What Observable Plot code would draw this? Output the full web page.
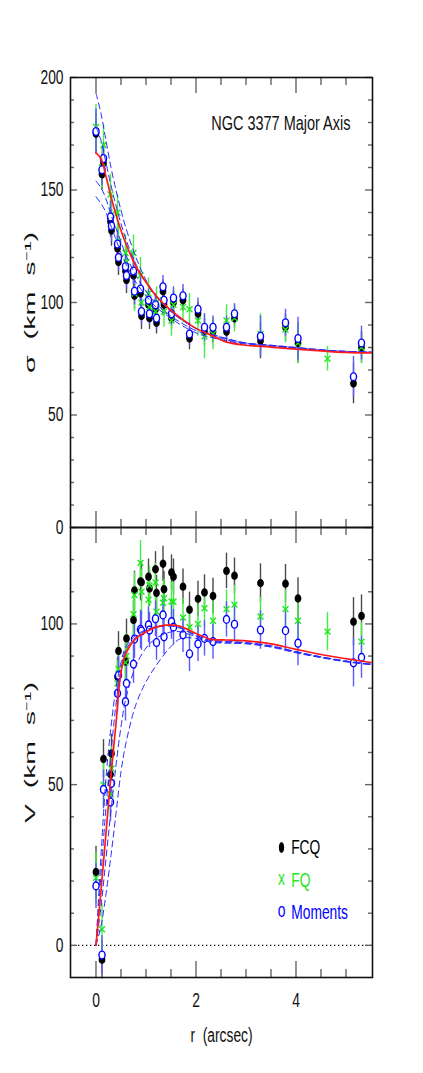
<!DOCTYPE html>
<html>
<head>
<meta charset="utf-8">
<script src="https://cdn.jsdelivr.net/npm/d3@7"></script>
<script src="https://cdn.jsdelivr.net/npm/@observablehq/plot@0.6"></script>
<style>
  html, body { margin: 0; padding: 0; background: white; }
  #wrap { position: relative; width: 423px; height: 1073px; background: white; overflow: hidden; }
  #wrap > div { position: absolute; left: 0; }
</style>
</head>
<body>
<div id="wrap"><div id="top" style="top:0px"></div><div id="bot" style="top:524px"></div></div>
<script>
// ---------------- data ----------------
const radius = [0.00, 0.12, 0.15, 0.29, 0.31, 0.43, 0.45, 0.59, 0.61, 0.75, 0.77, 0.89, 0.91, 1.05, 1.07, 1.19, 1.21,
  1.34, 1.36, 1.51, 1.55, 1.74, 1.87, 2.04, 2.17, 2.34, 2.61, 2.77, 3.29, 3.79, 4.04, 4.63, 5.15, 5.31];

const sigmaMom = [176, 159, 164, 138, 134, 126, 120, 116, 112, 114, 105, 106, 96, 101, 95, 99, 93,
  107, 101, 95, 102, 103, 86, 97, 89, 89, 89, 95, 85, 91, 84, null, 67, 82];
const sigmaMomErr = [10, 7, 7, 7, 7, 6, 6, 6, 6, 6, 6, 6, 6, 5, 5, 5, 5, 5, 5, 5, 5, 5, 5, 5, 6, 5, 5, 4.5, 9, 6, 9.5, null, 9, 7.5];
const sigmaFQ = [178, 160, 170, 148, 139, 140, 127, 122, 118, 122, 104, 112, 100, 104, 98, 96, 100,
  101, 96, 92, 99, 98, 97, 92, 85, 86, 92, 93, 86, 88, 82, 75, null, 80];
const sigmaFQErr = [10, 9, 9, 9, 9, 8, 8, 8, 8, 8, 8, 8, 8, 7, 7, 7, 7, 7, 7, 7, 7, 7, 7, 7, 10, 7, 7, 6, 9, 6, 9, 5.5, null, 7];
const sigmaFCQ = [175, 157, 162, 136, 132, 124, 118, 114, 110, 112, 103, 104, 94, 99, 93, 97, 91,
  105, 99, 93, 100, 101, 84, 95, 87, 87, 87, 93, 83, 89, 82, null, 64, 80];
const sigmaFCQErr = [9, 7, 7, 7, 7, 6, 6, 6, 6, 6, 6, 6, 6, 5, 5, 5, 5, 5, 5, 5, 5, 5, 5, 5, 6, 5, 5, 4.5, 8, 6, 9, null, 9, 7];

const velMom = [18.5, -3, 48.5, 44.6, 50.4, 78.4, 84, 75.8, 81.5, 87.5, 95.3, 98.3, 97.8, 99.7, 98.1, 101.6, 94.2,
  102.8, 96, 100.7, 99, 96.6, 90.7, 93.8, 95.5, 94.5, 101.4, 99.9, 98.1, 97.9, 94, null, 87.9, 89.6];
const velMomErr = [7, 6, 6, 6, 6, 6, 6, 6, 6, 6, 6, 6, 6, 5.5, 5.5, 5.5, 5.5, 5.5, 5.5, 5.5, 5.5, 5.5, 5.5, 5.5, 5.5, 5.5, 5.5, 5.5, 6, 6, 7, null, 7.5, 6.5];
const velFQ = [21, 5, 50, 47, 55, 81.5, 86, 88, 90, 103, 109, 119, 110, 107.5, 112, 112.9, 103.8,
  106.6, 108, 107, 106.9, 102, 99, 100, 104.9, 101, 104.6, 106, 102.3, 104.6, 101, 97.6, null, 94.5];
const velFQErr = [8, 8, 7, 7, 7, 7, 7, 7, 7, 7, 7, 7, 7, 6, 6, 6, 6, 6, 6, 6, 6, 6, 6, 6, 6, 6, 6, 6, 6, 6, 6, 6, null, 6];
const velFCQ = [22.8, -4.5, 58, 53.2, 59.7, 83.6, 91.6, 88.3, 95.5, 101.2, 110.4, 113.2, 113, 114.7, 111, 117, 109.6,
  118.7, 110.8, 116, 114.7, 111.6, 104.4, 107.8, 109.8, 108.7, 116.5, 115, 112.7, 112.5, 107.9, null, 100.7, 102.5];
const velFCQErr = [8, 6, 6, 6, 6, 6, 6, 6, 6, 6, 6, 6, 6, 5.5, 5.5, 5.5, 5.5, 5.5, 5.5, 5.5, 5.5, 5.5, 5.5, 5.5, 5.5, 5.5, 5.5, 5.5, 6, 6, 6.5, null, 7.5, 6.5];

// model curves
const modelR = [0, 0.1, 0.2, 0.3, 0.4, 0.5, 0.6, 0.8, 1.0, 1.2, 1.5, 1.7, 2.0, 2.3, 2.6, 3.0, 3.5, 4.0, 4.5, 5.0, 5.5];
const sigmaBest = [166.5, 164, 156, 147, 139, 132, 126, 116, 109, 103, 96.5, 93, 88.5, 85.5, 82.5, 81, 80.2, 79.3, 78.5, 77.8, 77.6];
const sigmaAltA = [193, 184, 172, 160, 150, 141, 133, 120, 110, 103, 96, 92.5, 88.5, 86, 84, 82, 81, 80, 79, 78.3, 78];
const sigmaAltB = [178, 172, 162, 152, 143, 135, 128, 117, 109, 102.5, 96, 92.5, 88.5, 86, 84, 82, 81, 80, 79, 78.3, 78];
const sigmaAltC = [154, 151, 146, 139, 133, 127, 121, 112, 105, 99.5, 94, 91, 87.5, 85.5, 83.5, 81.8, 80.8, 79.8, 78.8, 78.2, 77.9];
const sigmaAltD = [147, 144, 140, 134, 128, 122, 117, 109, 103, 98, 93, 90, 86.5, 84.5, 83, 81.5, 80.5, 79.6, 78.7, 78.1, 77.8];
const velBest = [0, 17, 35, 53, 69, 85, 91, 95.5, 97.5, 99, 99.7, 99.2, 97, 95.2, 95, 94.7, 93.8, 92.1, 90.5, 89.2, 88];
const velAltA = [0, 22, 43, 60, 75, 86, 92, 96, 98, 99.2, 99.5, 98.8, 96.5, 95, 94.6, 94.2, 93.2, 91.4, 89.8, 88.5, 87.5];
const velAltB = [0, 12, 27, 42, 56, 68, 77, 87, 92.5, 95.5, 97.5, 97.5, 96, 94.5, 94.2, 94, 92.9, 91.2, 89.6, 88.3, 87.4];
const velAltC = [0, 6, 16, 28, 41, 54, 63, 75, 82, 87, 93, 95.5, 95.5, 94.3, 94, 93.8, 92.8, 91, 89.5, 88.2, 87.3];
const velAltD = [0, 28, 52, 68, 80, 88, 93, 96.5, 98.2, 99, 99.3, 98.6, 96.3, 94.8, 94.5, 94.1, 93.1, 91.3, 89.7, 88.4, 87.5];

// ticks and labels
const sigmaTicks = [0, 50, 100, 150, 200];
const sigmaMinor = [10, 20, 30, 40, 60, 70, 80, 90, 110, 120, 130, 140, 160, 170, 180, 190];
const velTicks = [0, 50, 100];
const velMinor = [10, 20, 30, 40, 60, 70, 80, 90, 110, 120];
const rTicks = [0, 2, 4];
const rMinor = [0.5, 1, 1.5, 2.5, 3, 3.5, 4.5, 5];
const titleText = "NGC 3377 Major Axis";
const sigmaLabel = "σ\u00a0\u00a0(km\u00a0\u00a0s⁻¹)";
const velLabel = "V\u00a0\u00a0(km\u00a0\u00a0s⁻¹)";
const rLabel = "r\u00a0\u00a0(arcsec)";
const legendLabels = ["FCQ", "FQ", "Moments"];

// ---------------- styling ----------------
const cBlack = "#000", cGreen = "#22e822", cBlue = "#0000ff";
const barBlack = "#4a4a4a", barGreen = "#44ee44", barBlue = "#5a5aff";
const font = "'Liberation Sans', Arimo, Arial, sans-serif";
const W = 423, ML = 70, MR = 51, FH = 450;
const FW = W - ML - MR;
const xDomain = [-0.51, 5.53];

function ellipse(aspect) {
  return {
    draw(ctx, size) {
      const r = Math.sqrt(size / Math.PI), a = r * aspect, b = r, k = 0.5523;
      ctx.moveTo(a, 0);
      ctx.bezierCurveTo(a, b * k, a * k, b, 0, b);
      ctx.bezierCurveTo(-a * k, b, -a, b * k, -a, 0);
      ctx.bezierCurveTo(-a, -b * k, -a * k, -b, 0, -b);
      ctx.bezierCurveTo(a * k, -b, a, -b * k, a, 0);
      ctx.closePath();
    }
  };
}
const rows = (vals, errs) => radius.map((r, i) => ({r, v: vals[i], e: errs[i]})).filter(d => d.v != null);
const curve = (vals) => modelR.map((r, i) => ({r, v: vals[i]}));

function frameTicks(major, minor) {
  const tk = {stroke: "#666", strokeWidth: 1.4};
  return [
    Plot.tickY(minor, {y: d => d, insetRight: FW - 4, ...tk}),
    Plot.tickY(major, {y: d => d, insetRight: FW - 7, ...tk}),
    Plot.tickY(minor, {y: d => d, insetLeft: FW - 4, ...tk}),
    Plot.tickY(major, {y: d => d, insetLeft: FW - 7, ...tk}),
    Plot.tickX(rMinor, {x: d => d, insetBottom: FH - 8, ...tk}),
    Plot.tickX(rTicks, {x: d => d, insetBottom: FH - 16, ...tk}),
    Plot.tickX(rMinor, {x: d => d, insetTop: FH - 8, ...tk}),
    Plot.tickX(rTicks, {x: d => d, insetTop: FH - 16, ...tk}),
    Plot.frame({stroke: "#111", strokeWidth: 1.6}),
    Plot.text(major, {y: d => d, text: d => String(d), frameAnchor: "left", textAnchor: "end", lineAnchor: "middle", dx: -7, fontSize: 20, fill: "#111"})
  ];
}

function dataMarks(fcq, fcqE, fq, fqE, mom, momE) {
  const F = rows(fcq, fcqE), Q = rows(fq, fqE), M = rows(mom, momE);
  const bar = (data, stroke) => Plot.ruleX(data, {x: "r", y1: d => d.v - d.e, y2: d => d.v + d.e, stroke, strokeWidth: 1.4});
  return [
    bar(F, barBlack), bar(Q, barGreen), bar(M, barBlue),
    Plot.dot(F, {x: "r", y: "v", r: 4.2, symbol: ellipse(0.8), fill: cBlack}),
    Plot.dot(Q, {x: "r", y: "v", r: 2.8, symbol: "times", stroke: cGreen, strokeWidth: 1.4}),
    Plot.dot(M, {x: "r", y: "v", r: 3.9, symbol: ellipse(0.78), fill: "white", stroke: cBlue, strokeWidth: 1.4})
  ];
}

function modelMarks(best, alts) {
  return [
    ...alts.map(a => Plot.line(curve(a), {x: "r", y: "v", stroke: "#2a2aff", strokeWidth: 1, strokeDasharray: "6,4", curve: "catmull-rom"})),
    Plot.line(curve(best), {x: "r", y: "v", stroke: "#ff1a1a", strokeWidth: 1.7, curve: "catmull-rom"})
  ];
}

const common = {
  width: W, marginLeft: ML, marginRight: MR,
  x: {domain: xDomain, axis: null},
  style: {background: "transparent", overflow: "visible", fontFamily: font}
};

const topPlot = Plot.plot({
  ...common,
  height: 530, marginTop: 77, marginBottom: 3,
  y: {domain: [0, 200], axis: null},
  marks: [
    ...dataMarks(sigmaFCQ, sigmaFCQErr, sigmaFQ, sigmaFQErr, sigmaMom, sigmaMomErr),
    ...modelMarks(sigmaBest, [sigmaAltA, sigmaAltB, sigmaAltC, sigmaAltD]),
    ...frameTicks(sigmaTicks, sigmaMinor),
    Plot.text([titleText], {frameAnchor: "top-right", textAnchor: "end", lineAnchor: "middle", dx: -22, dy: 46, fontSize: 21, fill: "#111"}),
    Plot.text([sigmaLabel], {frameAnchor: "left", rotate: -90, dx: -40, lineAnchor: "middle", textAnchor: "middle", fontSize: 14, fill: "#111"})
  ]
});

const legendY = [847, 880, 911.7];
const legendMarks = [
  Plot.dot([0], {frameAnchor: "bottom-right", dx: -91, dy: legendY[0] - 977, r: 5.5, symbol: ellipse(0.48), fill: cBlack}),
  Plot.text(["x"], {frameAnchor: "bottom-right", dx: -91, dy: legendY[1] - 977 - 2, textAnchor: "middle", lineAnchor: "middle", fontSize: 20, fill: cGreen}),
  Plot.text(["o"], {frameAnchor: "bottom-right", dx: -91, dy: legendY[2] - 977 - 2, textAnchor: "middle", lineAnchor: "middle", fontSize: 20, fill: cBlue}),
  ...legendLabels.map((t, i) => Plot.text([t], {frameAnchor: "bottom-right", dx: -81.3, dy: legendY[i] - 977, textAnchor: "start", lineAnchor: "middle", fontSize: 20, fill: [cBlack, cGreen, cBlue][i]}))
];

const botPlot = Plot.plot({
  ...common,
  height: 549, marginTop: 3, marginBottom: 96,
  y: {domain: [-10, 130], axis: null},
  marks: [
    Plot.ruleY([0], {stroke: "#000", strokeWidth: 1.3, strokeDasharray: "1.3,2.7"}),
    ...dataMarks(velFCQ, velFCQErr, velFQ, velFQErr, velMom, velMomErr),
    ...modelMarks(velBest, [velAltA, velAltB, velAltC, velAltD]),
    ...frameTicks(velTicks, velMinor),
    Plot.text(rTicks, {x: d => d, text: d => String(d), frameAnchor: "bottom", lineAnchor: "middle", dy: 23, fontSize: 20, fill: "#111"}),
    Plot.text([rLabel], {frameAnchor: "bottom", lineAnchor: "middle", dy: 58, fontSize: 20, fill: "#111"}),
    Plot.text([velLabel], {frameAnchor: "left", rotate: -90, dx: -40, lineAnchor: "middle", textAnchor: "middle", fontSize: 14, fill: "#111"}),
    ...legendMarks
  ]
});

document.getElementById("top").appendChild(topPlot);
document.getElementById("bot").appendChild(botPlot);

// condense the lettering like the original plotting font
document.querySelectorAll("#wrap svg text").forEach(t => {
  const s = t.textContent;
  if (!s) return;
  const L = t.getComputedTextLength();
  t.setAttribute("lengthAdjust", "spacingAndGlyphs");
  if (s.includes("km")) t.setAttribute("textLength", 141);
  else t.setAttribute("textLength", (L * 0.69).toFixed(1));
});
</script>
</body>
</html>
